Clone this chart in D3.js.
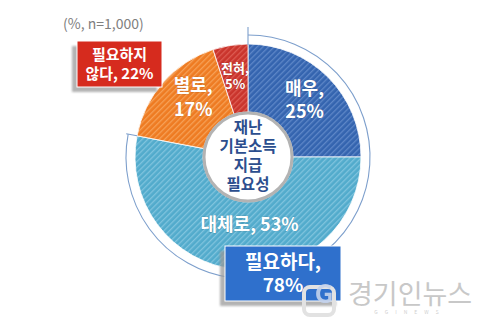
<!DOCTYPE html>
<html>
<head>
<meta charset="utf-8">
<script src="https://cdn.jsdelivr.net/npm/d3@7"></script>
<style>
  html, body { margin: 0; padding: 0; background: #fff; }
  svg { display: block; }
  text { font-family: "Noto Sans CJK KR", "Noto Sans", sans-serif; }
</style>
</head>
<body>
<svg id="chart" width="492" height="327"></svg>
<script>
// Survey: need for disaster basic income payment (%, n=1,000)
const categories = ["매우", "대체로", "별로", "전혀"];
const values = [25, 53, 17, 5];
const groupNames = ["필요하다", "필요하지 않다"];
const groupValues = [78, 22];
const centerLines = ["재난", "기본소득", "지급", "필요성"];
const noteText = "(%, n=1,000)";

const baseColors = ["#3464af", "#52abcc", "#ee7b22", "#c9342c"];
const stripeColors = ["#5e87c8", "#80c4de", "#f6a157", "#dd5c52"];

const W = 492, H = 327;
const cx = 248, cy = 157;
const rOuter = 113, rInner = 45, rRing = 122;

const svg = d3.select("#chart");
const defs = svg.append("defs");

// diagonal hatch fill for each slice
baseColors.forEach((c, i) => {
  const p = defs.append("pattern")
    .attr("id", "hatch" + i)
    .attr("patternUnits", "userSpaceOnUse")
    .attr("width", 4).attr("height", 4)
    .attr("patternTransform", "rotate(45)");
  p.append("rect").attr("width", 4).attr("height", 4).attr("fill", c);
  p.append("rect").attr("width", 1.3).attr("height", 4).attr("fill", stripeColors[i]);
});

const shadow = defs.append("filter").attr("id", "soft").attr("x", "-20%").attr("y", "-20%").attr("width", "140%").attr("height", "140%");
shadow.append("feGaussianBlur").attr("stdDeviation", 1.2);

const g = svg.append("g").attr("transform", `translate(${cx},${cy})`);

const pie = d3.pie().sort(null).value(d => d);
const arcs = pie(values);
const arc = d3.arc().innerRadius(rInner).outerRadius(rOuter);

g.selectAll("path.slice")
  .data(arcs)
  .join("path")
  .attr("class", "slice")
  .attr("d", arc)
  .attr("fill", (d, i) => `url(#hatch${i})`)
  .attr("stroke", "#ffffff")
  .attr("stroke-width", 0.8);

// outline arc spanning the "필요하다" group
const groupArcs = pie(groupValues);
const needArc = groupArcs[0];
const ringArc = d3.arc().innerRadius(rRing).outerRadius(rRing)
  .startAngle(needArc.startAngle).endAngle(needArc.endAngle);
g.append("path").attr("d", ringArc()).attr("fill", "none")
  .attr("stroke", "#7d9fcc").attr("stroke-width", 1.1);
[[needArc.startAngle, rOuter - 1, rRing + 8], [needArc.endAngle, rOuter, rRing + 2]].forEach(([a, r0, r1]) => {
  g.append("line")
    .attr("x1", r0 * Math.sin(a)).attr("y1", -r0 * Math.cos(a))
    .attr("x2", r1 * Math.sin(a)).attr("y2", -r1 * Math.cos(a))
    .attr("stroke", "#7d9fcc").attr("stroke-width", 1.1);
});

// center disc
g.append("circle").attr("r", rInner - 1).attr("fill", "#ffffff")
  .attr("stroke", "#b3b3b3").attr("stroke-width", 3);
const ct = g.append("text").attr("text-anchor", "middle")
  .attr("fill", "#2c4e8e").attr("font-weight", "bold").attr("font-size", 15.5);
centerLines.forEach((s, i) => {
  ct.append("tspan").attr("x", 0).attr("y", -24 + i * 19).text(s);
});

// slice labels: placed along each slice's mid angle
const labelRadius = [80, 68, 81, 82];
const labelSize = [18, 18, 18, 13];
const lineGap = [23, 0, 24, 16];
const nudge = [[0, 0], [8, 0], [6, -6], [0, 0]];
arcs.forEach((d, i) => {
  const mid = (d.startAngle + d.endAngle) / 2;
  const x = labelRadius[i] * Math.sin(mid) + nudge[i][0];
  const y = -labelRadius[i] * Math.cos(mid) + nudge[i][1];
  const lines = i === 1 ? [categories[i] + ", " + values[i] + "%"]
                        : [categories[i] + ",", values[i] + "%"];
  const size = labelSize[i];
  const t = g.append("text").attr("text-anchor", "middle")
    .attr("fill", "#ffffff").attr("font-weight", "bold")
    .attr("font-size", size)
    .attr("stroke", "rgba(0,0,0,0.25)").attr("stroke-width", 0.6)
    .attr("paint-order", "stroke");
  lines.forEach((s, k) => {
    t.append("tspan").attr("x", x)
      .attr("y", y - (lines.length - 1) * lineGap[i] / 2 + k * lineGap[i] + size * 0.36)
      .text(s);
  });
});

// group callout boxes
function callout(x, y, w, h, color, lines, size) {
  svg.append("rect").attr("x", x - 5).attr("y", y + 5).attr("width", w).attr("height", h)
    .attr("fill", "#9a9a9a").attr("opacity", 0.75).attr("filter", "url(#soft)");
  svg.append("rect").attr("x", x).attr("y", y).attr("width", w).attr("height", h)
    .attr("fill", color).attr("stroke", "#ffffff").attr("stroke-width", 1);
  const t = svg.append("text").attr("text-anchor", "middle").attr("fill", "#fff")
    .attr("font-weight", "bold").attr("font-size", size);
  lines.forEach((s, k) => {
    t.append("tspan").attr("x", x + w / 2)
      .attr("y", y + h / 2 + (k - (lines.length - 1) / 2) * (size * 1.22) + size * 0.36)
      .text(s);
  });
}
callout(77, 41, 85, 46, "#d62b1e", ["필요하지", "않다, " + groupValues[1] + "%"], 15);
callout(225, 246, 116, 55, "#2f70cc", [groupNames[0] + ",", groupValues[0] + "%"], 19);

// note
svg.append("text").attr("x", 63).attr("y", 29).attr("fill", "#808080")
  .attr("font-size", 14).attr("font-family", "Noto Sans, sans-serif").text(noteText);

// publisher mark
svg.append("rect").attr("x", 304).attr("y", 287).attr("width", 30).attr("height", 28).attr("rx", 6)
  .attr("fill", "none").attr("stroke", "#e2e2e2").attr("stroke-width", 4);
svg.append("text").attr("x", 324).attr("y", 303).attr("text-anchor", "middle")
  .attr("font-size", 26).attr("font-weight", "bold").attr("fill", "#c3d2ec")
  .attr("opacity", 0.9).text("G");
svg.append("text").attr("x", 348).attr("y", 304).attr("font-size", 27)
  .attr("fill", "#c8c8c8").text("경기인뉴스");
svg.append("text").attr("x", 410).attr("y", 314).attr("text-anchor", "middle").attr("font-size", 5)
  .attr("letter-spacing", 7).attr("fill", "#cfcfcf").text("GGINEWS");
</script>
</body>
</html>
